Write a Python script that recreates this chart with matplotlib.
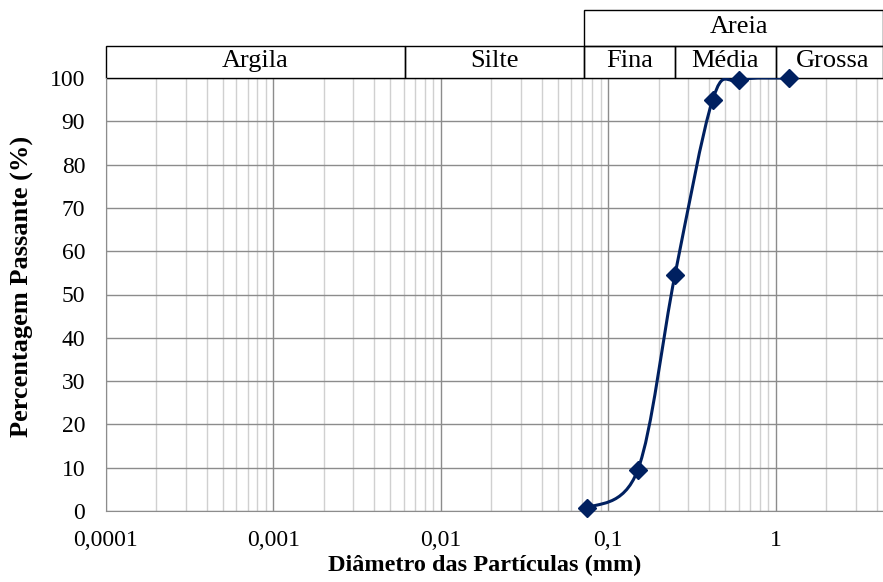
import numpy as np
import matplotlib
matplotlib.use("Agg")
import matplotlib.pyplot as plt
from matplotlib.path import Path
from matplotlib.patches import PathPatch, Rectangle
import matplotlib.transforms as mtransforms

# ---- data ----
diam = [0.075, 0.15, 0.25, 0.42, 0.6, 1.2]
passing = [0.6, 9.5, 54.5, 95.0, 99.5, 100.0]
xtick_vals = [0.0001, 0.001, 0.01, 0.1, 1]
xtick_labels = ["0,0001", "0,001", "0,01", "0,1", "1"]
ytick_vals = list(range(0, 101, 10))
# soil classification bands (bottom row) and top row
band_edges = [0.0001, 0.0061, 0.072, 0.25, 1.0, 4.37]
band_names = ["Argila", "Silte", "Fina", "Média", "Grossa"]
areia_edges = [0.072, 4.37]
areia_name = "Areia"

plt.rcParams['font.family'] = ['Liberation Serif', 'DejaVu Serif']

W, H = 883, 582
fig = plt.figure(figsize=(W / 100, H / 100), dpi=100)
L, R, B, T = 106, 883, 511, 78
ax = fig.add_axes([L / W, (H - B) / H, (R - L) / W, (B - T) / H])
ax.set_xscale('log')
ax.set_xlim(0.0001, 4.37)
ax.set_ylim(0, 100)

ax.set_xticks(xtick_vals)
ax.set_xticklabels(xtick_labels)
ax.set_yticks(ytick_vals)
ax.tick_params(axis='both', which='both', length=0, labelsize=17)
ax.tick_params(axis='x', pad=14)
ax.tick_params(axis='y', pad=15)
ax.xaxis.set_minor_locator(matplotlib.ticker.LogLocator(base=10, subs=np.arange(2, 10)))
ax.xaxis.set_minor_formatter(matplotlib.ticker.NullFormatter())
ax.grid(True, which='major', axis='x', color='#8c8c8c', lw=1.0)
ax.grid(True, which='minor', axis='x', color='#d0d0d0', lw=1.0)
ax.grid(True, which='major', axis='y', color='#8c8c8c', lw=1.0)
ax.set_axisbelow(True)
for s in ['top', 'right']:
    ax.spines[s].set_visible(False)
ax.spines['left'].set_color('#8c8c8c')
ax.spines['bottom'].set_color('#8c8c8c')

ax.set_xlabel("Diâmetro das Partículas (mm)", fontsize=17.5, fontweight='bold')
ax.set_ylabel("Percentagem Passante (%)", fontsize=19, fontweight='bold')
ax.xaxis.set_label_coords((485 - L) / (R - L), -(565 - B) / (B - T))
ax.yaxis.set_label_coords(-(L - 22) / (R - L), (B - 286) / (B - T))
ax.xaxis.label.set_va('center')
ax.yaxis.label.set_va('center')

# ---- smoothed line (Excel-like cardinal spline in display space) ----
fig.canvas.draw()
pts = ax.transData.transform(np.column_stack([diam, passing]))
n = len(pts)
verts = [pts[0]]
codes = [Path.MOVETO]
for i in range(n - 1):
    p0 = pts[i - 1] if i > 0 else pts[i]
    p1 = pts[i]
    p2 = pts[i + 1]
    p3 = pts[i + 2] if i + 2 < n else pts[i + 1]
    c1 = p1 + (p2 - p0) / 6.0
    c2 = p2 - (p3 - p1) / 6.0
    verts += [c1, c2, p2]
    codes += [Path.CURVE4] * 3
verts = ax.transData.inverted().transform(np.array(verts))
path = Path(verts, codes)
ax.add_patch(PathPatch(path, facecolor='none', edgecolor='#002060', lw=2.2,
                       transform=ax.transData, zorder=3))
ax.plot(diam, passing, linestyle='none', marker='D', markersize=9,
        color='#002060', zorder=4, clip_on=False)

# ---- classification boxes above the plot ----
trans = mtransforms.blended_transform_factory(ax.transData, ax.transAxes)
y0, y1, y2 = 1.0, (B - 46) / (B - T), (B - 10) / (B - T)
for i, name in enumerate(band_names):
    a, b = band_edges[i], band_edges[i + 1]
    ax.add_patch(Rectangle((a, y0), b - a, y1 - y0, transform=trans, fill=False,
                           edgecolor='black', lw=1.0, clip_on=False))
    xm = np.sqrt(a * b)
    if name == "Grossa":
        xm = np.sqrt(a * b) * 1.05
    ax.text(xm, (y0 + y1) / 2 + 0.003, name, transform=trans, ha='center', va='center',
            fontsize=19, clip_on=False)
a, b = areia_edges
ax.add_patch(Rectangle((a, y1), b - a, y2 - y1, transform=trans, fill=False,
                       edgecolor='black', lw=1.0, clip_on=False))
ax.text(np.sqrt(a * b) * 1.08, (y1 + y2) / 2 + 0.003, areia_name, transform=trans,
        ha='center', va='center', fontsize=19, clip_on=False)

fig.savefig("out.png", dpi=100)
